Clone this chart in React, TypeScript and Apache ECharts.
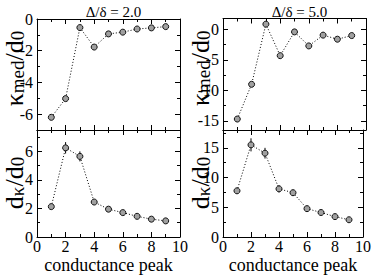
import React, { useEffect, useRef } from 'react';
import * as echarts from 'echarts';

const peaks = [1, 2, 3, 4, 5, 6, 7, 8, 9];
const kappaMed2 = [-6.2, -5.02, -0.54, -1.77, -0.94, -0.83, -0.63, -0.56, -0.48];
const kappaMed5 = [-14.7, -9.0, 0.87, -4.3, -0.4, -2.7, -0.93, -1.6, -1.0];
const dKappa2 = [2.13, 6.25, 5.65, 2.45, 1.95, 1.71, 1.45, 1.25, 1.13];
const dKappa2Err = [0.1, 0.4, 0.35, 0.12, 0.1, 0.1, 0.1, 0.1, 0.1];
const dKappa5 = [7.77, 15.5, 14.1, 8.1, 7.45, 4.77, 4.12, 3.43, 2.9];
const dKappa5Err = [0.3, 1.1, 0.9, 0.6, 0.5, 0.25, 0.25, 0.2, 0.2];

const titles = ['\u0394/\u03b4 = 2.0', '\u0394/\u03b4 = 5.0'];
const xLabel = 'conductance peak';

const xTicks = [0, 2, 4, 6, 8, 10];
const xMinor = [1, 3, 5, 7, 9];
const yTicksTL = [-6, -4, -2, 0];
const yMinorTL = [-7, -5, -3, -1];
const yTicksTR = [-15, -10, -5, 0];
const yMinorTR = [-12.5, -7.5, -2.5];
const yTicksBL = [0, 2, 4, 6];
const yMinorBL = [1, 3, 5, 7];
const yTicksBR = [0, 5, 10, 15];
const yMinorBR = [2.5, 7.5, 12.5, 17.5];

const FONT = 'Liberation Serif';

const panels = [
  { grid: { left: 37, top: 19, width: 143, height: 111 }, ymin: -7, ymax: 0, yt: yTicksTL, ym: yMinorTL, xlab: false, yname: 'k', data: kappaMed2, err: null as number[] | null },
  { grid: { left: 223, top: 18.5, width: 143, height: 111.5 }, ymin: -16.5, ymax: 1.8, yt: yTicksTR, ym: yMinorTR, xlab: false, yname: 'k', data: kappaMed5, err: null as number[] | null },
  { grid: { left: 37, top: 130, width: 143, height: 112 }, ymin: 0, ymax: 7.5, yt: yTicksBL, ym: yMinorBL, xlab: true, yname: 'd', data: dKappa2, err: dKappa2Err },
  { grid: { left: 223, top: 130, width: 143, height: 112 }, ymin: 0, ymax: 18, yt: yTicksBR, ym: yMinorBR, xlab: true, yname: 'd', data: dKappa5, err: dKappa5Err },
];

const richStyles = {
  m: { fontSize: 26, fontFamily: FONT, fill: '#000', lineHeight: 26, verticalAlign: 'top' },
  s: { fontSize: 19, fontFamily: FONT, fill: '#000', lineHeight: 19, padding: [12, 0, 0, 0], verticalAlign: 'bottom' },
};

function buildOption() {
  const xAxes: any[] = [];
  const yAxes: any[] = [];
  const series: any[] = [];
  const graphics: any[] = [];
  panels.forEach((p, gi) => {
    const base = (kind: 'x' | 'y', position: string, min: number, max: number, vals: number[], len: number, line: boolean, labels: boolean) => ({
      type: 'value',
      gridIndex: gi,
      position,
      min,
      max,
      axisLine: { show: line, onZero: false, lineStyle: { color: '#000', width: 1 } },
      axisTick: { show: true, inside: true, length: len, customValues: vals, lineStyle: { color: '#000', width: 1 } },
      axisLabel: labels
        ? { show: true, customValues: vals, color: '#000', fontFamily: FONT, fontSize: 16, margin: kind === 'x' ? 1 : 4 }
        : { show: false },
      splitLine: { show: false },
    });
    const xMain = xAxes.length;
    const xb = base('x', 'bottom', 0, 10, xTicks, 5, true, p.xlab) as any;
    if (p.xlab) {
      xb.name = xLabel;
      xb.nameLocation = 'middle';
      xb.nameGap = 19;
      xb.nameTextStyle = { fontFamily: FONT, fontSize: 18, color: '#000' };
    }
    xAxes.push(xb);
    xAxes.push(base('x', 'bottom', 0, 10, xMinor, 3, false, false));
    xAxes.push(base('x', 'top', 0, 10, xTicks, 5, true, false));
    xAxes.push(base('x', 'top', 0, 10, xMinor, 3, false, false));

    const yMain = yAxes.length;
    yAxes.push(base('y', 'left', p.ymin, p.ymax, p.yt, 5, true, true));
    yAxes.push(base('y', 'left', p.ymin, p.ymax, p.ym, 3, false, false));
    yAxes.push(base('y', 'right', p.ymin, p.ymax, p.yt, 5, true, false));
    yAxes.push(base('y', 'right', p.ymin, p.ymax, p.ym, 3, false, false));

    graphics.push({
      type: 'text',
      x: p.grid.left - 23,
      y: p.grid.top + p.grid.height / 2 - (p.yname === 'k' ? 6 : 3),
      rotation: Math.PI / 2,
      style: {
        text: p.yname === 'k' ? '{m|\u03ba}{s|med}{m|/d}{s|0}' : '{m|d}{s|\u03ba}{m|/d}{s|0}',
        rich: richStyles,
        align: 'center',
        verticalAlign: 'middle',
        fill: '#000',
        fontFamily: FONT,
        fontSize: 26,
      },
    });

    if (p.err) {
      const err = p.err;
      series.push({
        type: 'custom',
        xAxisIndex: xMain,
        yAxisIndex: yMain,
        z: 1,
        data: peaks.map((x, i) => [x, p.data[i] - err[i], p.data[i] + err[i]]),
        renderItem: (params: any, api: any) => {
          const lo = api.coord([api.value(0), api.value(1)]);
          const hi = api.coord([api.value(0), api.value(2)]);
          return {
            type: 'line',
            shape: { x1: lo[0], y1: lo[1], x2: hi[0], y2: hi[1] },
            style: { stroke: '#000', lineWidth: 1 },
          };
        },
      });
    }
    series.push({
      type: 'line',
      xAxisIndex: xMain,
      yAxisIndex: yMain,
      z: 3,
      data: peaks.map((x, i) => [x, p.data[i]]),
      symbol: 'circle',
      symbolSize: 6,
      showSymbol: true,
      lineStyle: { color: '#000', width: 1, type: [1, 2] },
      itemStyle: { color: '#a0a0a0', borderColor: '#111', borderWidth: 1 },
    });
  });

  return {
    animation: false,
    backgroundColor: '#fff',
    textStyle: { fontFamily: FONT },
    title: titles.map((t, i) => ({
      text: t,
      left: i === 0 ? 108.5 : 294.5,
      top: -1,
      textAlign: 'center',
      textStyle: { fontFamily: FONT, fontSize: 15, fontWeight: 'normal', color: '#000' },
    })),
    grid: panels.map((p) => ({ ...p.grid, containLabel: false })),
    xAxis: xAxes,
    yAxis: yAxes,
    graphic: graphics,
    series,
  };
}

export default function App() {
  const ref = useRef<HTMLDivElement>(null);
  useEffect(() => {
    if (!ref.current) return;
    const chart = echarts.init(ref.current, undefined, { renderer: 'svg' });
    chart.setOption(buildOption() as any);
    return () => chart.dispose();
  }, []);
  return <div ref={ref} style={{ position: 'absolute', left: 0, top: 0, width: 374, height: 275 }} />;
}
